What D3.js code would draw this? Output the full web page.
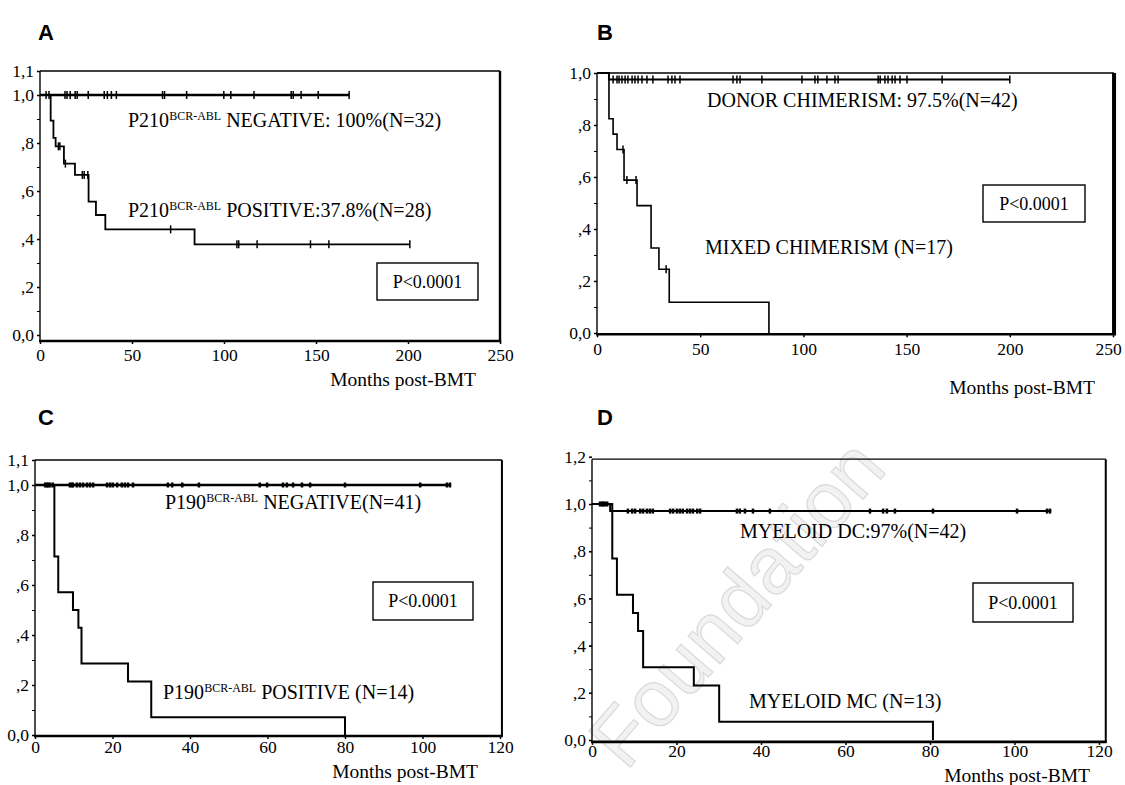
<!DOCTYPE html>
<html><head><meta charset="utf-8">
<script src="https://cdn.jsdelivr.net/npm/d3@7"></script>
<style>body{margin:0;background:#fff}</style></head>
<body>
<svg id="chart" width="1125" height="785"></svg>
<script>
// ---------- DATA ----------
// Panel A
const aNegTimes = [0];
const aNegSurv = [1];
const aNegEnd = 168;
const aNegCensor = [3.3,4.9,13.6,14.7,16.4,19.1,20.2,26.2,34.9,36.6,38.8,41.5,66.6,67.7,79.7,99.9,103.7,116.3,136.5,137.6,141.9,151.2,168];
const aPosTimes = [0,5.8,7.3,8.5,13,19,26.4,30.4,35.5,84];
const aPosSurv = [1,0.893,0.821,0.786,0.714,0.667,0.556,0.5,0.44,0.378];
const aPosEnd = 201;
const aPosCensor = [10,10.8,13.8,23,24,26,71,107,108,118,147,157,201];
// Panel B
const bDonTimes = [0,5.8];
const bDonSurv = [1,0.975];
const bDonEnd = 200;
const bDonCensor = [7.8,9.7,10.7,12.1,13.6,15,17,18.4,19.9,21.8,24.2,27.1,34.4,36.3,37.8,40.2,65.9,67.8,69.3,79.9,99.3,105.6,107,111.4,115.3,116.8,136.2,137.2,139.5,141,143,144.4,146.8,150.2,167.2,200];
const bMixTimes = [0,5.8,7.8,9.7,13.1,19.4,26.2,30,35,83.3];
const bMixSurv = [1,0.824,0.765,0.706,0.588,0.49,0.327,0.245,0.118,0];
const bMixEnd = 83.3;
const bMixCensor = [12.6,14.5,18.9,33.5];
// Panel C
const cNegTimes = [0];
const cNegSurv = [1];
const cNegEnd = 107;
const cNegCensor = [2.6,3.1,3.4,3.9,4.6,9,9.5,9.8,10.8,11.6,12.4,13.4,14.2,15,18.6,19.4,20.1,21.2,22.4,23.2,24,25.3,34.3,35.4,38,42.3,58,59.9,64,65,66.6,68.9,71,80,99.4,106.3,107.1];
const cPosTimes = [0,5,6,9.8,11.2,12,24,30,80];
const cPosSurv = [1,0.714,0.571,0.5,0.429,0.286,0.214,0.071,0];
const cPosEnd = 80;
const cPosCensor = [];
// Panel D
const dDcTimes = [0,4.3];
const dDcSurv = [1,0.97];
const dDcEnd = 108.7;
const dDcCensor = [1.9,2.4,2.6,3.1,3.6,8.5,9.5,10.2,11.4,12.1,13,13.7,14.4,18.5,19.2,20.1,20.8,21.5,22.5,23.2,23.9,24.9,25.6,34.3,35,36.2,38.1,42.1,65.8,68.9,69.8,71.7,80.7,100.6,107.7,108.4];
const dMcTimes = [0,4.8,5.9,9.7,10.9,12.1,24.1,30.1,80.7];
const dMcSurv = [1,0.769,0.615,0.538,0.462,0.308,0.231,0.077,0];
const dMcEnd = 80.7;
const dMcCensor = [];

// Tick labels
const xTicksLong = [0,50,100,150,200,250];
const xTicksShort = [0,20,40,60,80,100,120];
const yTicks11 = [0,0.2,0.4,0.6,0.8,1.0,1.1];
const yLabels11 = ["0,0",",2",",4",",6",",8","1,0","1,1"];
const yTicks10 = [0,0.2,0.4,0.6,0.8,1.0];
const yLabels10 = ["0,0",",2",",4",",6",",8","1,0"];
const yTicks12 = [0,0.2,0.4,0.6,0.8,1.0,1.2];
const yLabels12 = ["0,0",",2",",4",",6",",8","1,0","1,2"];
const xTitle = "Months post-BMT";
const pText = "P<0.0001";

// ---------- DRAW ----------
const svg = d3.select("#chart");
const SERIF = "'Liberation Serif','Times New Roman',serif";

// watermark
svg.append("text").attr("transform","translate(626,772) rotate(-49)")
  .attr("font-family","'Liberation Sans',Arial,sans-serif").attr("font-size",80)
  .attr("fill","#f2f2f2").attr("stroke","#dadada").attr("stroke-width",1.2)
  .text("Foundation");

function survAt(times, surv, t){
  let s = surv[0];
  for (let i=0;i<times.length;i++) if (times[i] <= t) s = surv[i];
  return s;
}

function panel(cfg){
  const g = svg.append("g");
  const x = d3.scaleLinear().domain(cfg.xDom).range(cfg.xRange);
  const y = d3.scaleLinear().domain([0,1]).range(cfg.yRange);
  const L = x(0), R = x(cfg.frameRight), T = y(cfg.frameTop), B = y(cfg.frameBottom);

  g.append("text").attr("x",cfg.letterPos[0]).attr("y",cfg.letterPos[1])
    .attr("font-family","'Liberation Sans',Arial,sans-serif").attr("font-weight","bold")
    .attr("font-size",22).text(cfg.letter);

  g.append("line").attr("x1",L).attr("x2",L).attr("y1",T).attr("y2",B).attr("stroke","#000").attr("stroke-width",1.4);
  g.append("line").attr("x1",L).attr("x2",R).attr("y1",T).attr("y2",T).attr("stroke","#000").attr("stroke-width",1.4);
  g.append("line").attr("x1",R).attr("x2",R).attr("y1",T).attr("y2",B).attr("stroke","#000").attr("stroke-width",cfg.rightW);
  g.append("line").attr("x1",L-1).attr("x2",R+cfg.rightW/2).attr("y1",B).attr("y2",B).attr("stroke","#000").attr("stroke-width",2.6);

  const ya = g.append("g").attr("transform",`translate(${L},0)`)
    .call(d3.axisLeft(y).tickValues(cfg.yTicks).tickSize(3).tickPadding(3)
      .tickFormat((d,i)=>cfg.yLabels[i]));
  const minor = d3.range(0, d3.max(cfg.yTicks)+0.001, 0.1);
  g.append("g").attr("transform",`translate(${L},0)`)
    .call(d3.axisLeft(y).tickValues(minor).tickSize(3).tickFormat(""))
    .call(s=>s.select(".domain").remove());
  const xa = g.append("g").attr("transform",`translate(0,${B})`)
    .call(d3.axisBottom(x).tickValues(cfg.xTicks).tickSize(3).tickPadding(cfg.xPad));
  [ya,xa].forEach(a=>{
    a.select(".domain").remove();
    a.attr("font-family",SERIF).attr("font-size",17.5);
    a.selectAll("line").attr("stroke-width",1.5);
  });
  if (cfg.lastDx) xa.selectAll(".tick:last-of-type text").attr("dx",cfg.lastDx);

  g.append("text").attr("x",cfg.xTitlePos[0]).attr("y",cfg.xTitlePos[1])
    .attr("text-anchor","end").attr("font-family",SERIF).attr("font-size",19.5).text(xTitle);

  const line = d3.line().x(d=>x(d[0])).y(d=>y(d[1])).curve(d3.curveStepAfter);
  cfg.curves.forEach(c=>{
    const pts = c.times.map((t,i)=>[t,c.surv[i]]);
    if (c.end > c.times[c.times.length-1]) pts.push([c.end, c.surv[c.surv.length-1]]);
    g.append("path").attr("d",line(pts)).attr("fill","none").attr("stroke","#000")
      .attr("stroke-width",c.w);
    g.selectAll(null).data(c.censor).enter().append("line")
      .attr("x1",d=>x(d)).attr("x2",d=>x(d))
      .attr("y1",d=>y(survAt(c.times,c.surv,d))-cfg.markH)
      .attr("y2",d=>y(survAt(c.times,c.surv,d))+cfg.markH)
      .attr("stroke","#000").attr("stroke-width",cfg.markW);
  });

  cfg.labels.forEach(l=>{
    const t = g.append("text").attr("x",l.x).attr("y",l.y).attr("font-family",SERIF).attr("font-size",20);
    if (l.sup){
      t.append("tspan").text(l.pre);
      t.append("tspan").attr("font-size",12).attr("dy",-7).text(l.sup);
      t.append("tspan").attr("dy",7).text(l.post);
    } else t.text(l.post);
  });

  const pb = cfg.pbox;
  g.append("rect").attr("x",pb[0]).attr("y",pb[1]).attr("width",pb[2]).attr("height",pb[3])
    .attr("fill","#fff").attr("stroke","#000").attr("stroke-width",1.4);
  g.append("text").attr("x",pb[0]+pb[2]/2).attr("y",pb[1]+pb[3]/2+6).attr("text-anchor","middle")
    .attr("font-family",SERIF).attr("font-size",18).text(pText);
}

panel({
  letter:"A", letterPos:[38,40],
  xDom:[0,250], xRange:[40,500], yRange:[335,95], frameRight:250, frameTop:1.1, frameBottom:-0.025,
  rightW:2.4, xTicks:xTicksLong, yTicks:yTicks11, yLabels:yLabels11, xTitlePos:[476,386], xPad:5,
  markH:4, markW:1.5,
  curves:[
    {times:aNegTimes, surv:aNegSurv, end:aNegEnd, censor:aNegCensor, w:2.4},
    {times:aPosTimes, surv:aPosSurv, end:aPosEnd, censor:aPosCensor, w:1.8}
  ],
  labels:[
    {x:128,y:127,pre:"P210",sup:"BCR-ABL",post:" NEGATIVE: 100%(N=32)"},
    {x:128,y:217,pre:"P210",sup:"BCR-ABL",post:" POSITIVE:37.8%(N=28)"}
  ],
  pbox:[377,263,101,37]
});

panel({
  letter:"B", letterPos:[597,40],
  xDom:[0,250], xRange:[597,1113], yRange:[333,73], frameRight:250.5, frameTop:1.0, frameBottom:-0.005,
  rightW:4, xTicks:xTicksLong, yTicks:yTicks10, yLabels:yLabels10, xTitlePos:[1095,394], xPad:5, lastDx:-5,
  markH:4, markW:1.5,
  curves:[
    {times:bDonTimes, surv:bDonSurv, end:bDonEnd, censor:bDonCensor, w:2},
    {times:bMixTimes, surv:bMixSurv, end:bMixEnd, censor:bMixCensor, w:1.6}
  ],
  labels:[
    {x:707,y:107,post:"DONOR CHIMERISM: 97.5%(N=42)"},
    {x:705,y:254,post:"MIXED CHIMERISM (N=17)"}
  ],
  pbox:[983,185,102,37]
});

panel({
  letter:"C", letterPos:[38,425],
  xDom:[0,120], xRange:[35,500], yRange:[735,485], frameRight:120.5, frameTop:1.1, frameBottom:-0.004,
  rightW:2, xTicks:xTicksShort, yTicks:yTicks11, yLabels:yLabels11, xTitlePos:[478,778], xPad:2,
  markH:2.5, markW:2.5,
  curves:[
    {times:cNegTimes, surv:cNegSurv, end:cNegEnd, censor:cNegCensor, w:2.4},
    {times:cPosTimes, surv:cPosSurv, end:cPosEnd, censor:cPosCensor, w:2}
  ],
  labels:[
    {x:165,y:509,pre:"P190",sup:"BCR-ABL",post:" NEGATIVE(N=41)"},
    {x:163,y:699,pre:"P190",sup:"BCR-ABL",post:" POSITIVE (N=14)"}
  ],
  pbox:[373,582,100,38]
});

panel({
  letter:"D", letterPos:[597,425],
  xDom:[0,120], xRange:[592,1099], yRange:[740,504], frameRight:121.6, frameTop:1.19, frameBottom:-0.008,
  rightW:2, xTicks:xTicksShort, yTicks:yTicks12, yLabels:yLabels12, xTitlePos:[1090,782], xPad:0,
  markH:2.5, markW:2.5,
  curves:[
    {times:dDcTimes, surv:dDcSurv, end:dDcEnd, censor:dDcCensor, w:2},
    {times:dMcTimes, surv:dMcSurv, end:dMcEnd, censor:dMcCensor, w:2}
  ],
  labels:[
    {x:740,y:538,post:"MYELOID DC:97%(N=42)"},
    {x:749,y:708,post:"MYELOID MC (N=13)"}
  ],
  pbox:[973,583,100,39]
});
</script>
</body></html>
